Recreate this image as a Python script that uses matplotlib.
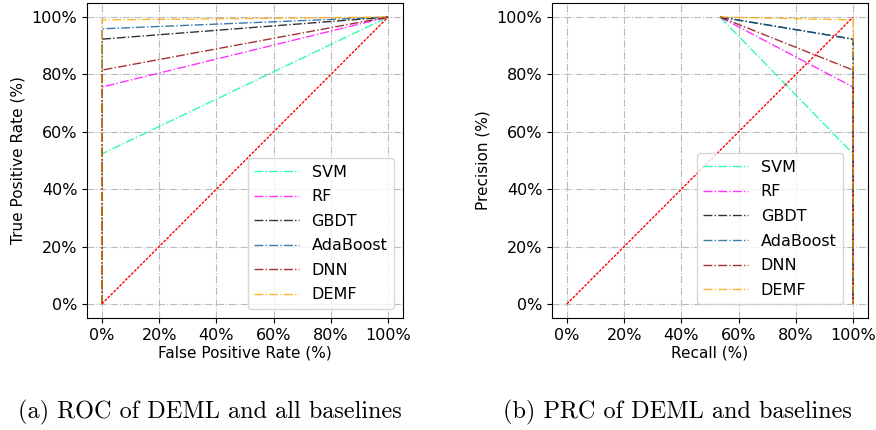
import matplotlib
matplotlib.use('Agg')
import matplotlib.pyplot as plt
from matplotlib.ticker import PercentFormatter

# Series names and styles
names = ['SVM', 'RF', 'GBDT', 'AdaBoost', 'DNN', 'DEMF']
colors = ['mediumspringgreen', 'magenta', 'black', '#0b5a91', 'darkred', 'orange']

# ROC: (fpr, tpr) points per model
roc_fpr = [0.0, 0.0, 1.0]
roc_tpr = {
    'SVM': [0.0, 0.523, 1.0],
    'RF': [0.0, 0.756, 1.0],
    'GBDT': [0.0, 0.923, 1.0],
    'AdaBoost': [0.0, 0.959, 1.0],
    'DNN': [0.0, 0.815, 1.0],
    'DEMF': [0.0, 0.99, 1.0],
}

# PRC: (recall, precision) points per model
prc_recall = [0.535, 1.0, 1.0]
prc_precision = {
    'SVM': [1.0, 0.523, 0.0],
    'RF': [1.0, 0.756, 0.0],
    'GBDT': [1.0, 0.923, 0.0],
    'AdaBoost': [1.0, 0.923, 0.0],
    'DNN': [1.0, 0.815, 0.0],
    'DEMF': [1.0, 0.99, 0.0],
}
diag = [0.0, 1.0]

plt.rcParams['font.family'] = ['DejaVu Sans']
plt.rcParams['font.size'] = 10

fig = plt.figure(figsize=(8.76, 4.30), dpi=100)
ax_roc = fig.add_axes([87/876, 112/430, 316/876, 315/430])
ax_prc = fig.add_axes([552/876, 112/430, 316/876, 315/430])

for name, c in zip(names, colors):
    ax_roc.plot(roc_fpr, roc_tpr[name], '-.', color=c, lw=1.0, alpha=0.8, label=name)
    ax_prc.plot(prc_recall, prc_precision[name], '-.', color=c, lw=1.0, alpha=0.8, label=name)
ax_roc.plot(diag, diag, '--', color='red', lw=1.0, dashes=(2, 1))
ax_prc.plot(diag, diag, '--', color='red', lw=1.0, dashes=(2, 1))

for ax in (ax_roc, ax_prc):
    ax.set_xlim(-0.052, 1.052)
    ax.set_ylim(-0.049, 1.049)
    ax.set_xticks([0, 0.2, 0.4, 0.6, 0.8, 1.0])
    ax.set_yticks([0, 0.2, 0.4, 0.6, 0.8, 1.0])
    ax.xaxis.set_major_formatter(PercentFormatter(1.0, decimals=0))
    ax.yaxis.set_major_formatter(PercentFormatter(1.0, decimals=0))
    ax.grid(True, linestyle='-.', color='#bbbbbb', lw=0.8)
    ax.tick_params(labelsize=11.5)

ax_roc.set_xlabel('False Positive Rate (%)', fontsize=11, labelpad=2)
ax_roc.set_ylabel('True Positive Rate (%)', fontsize=11)
ax_prc.set_xlabel('Recall (%)', fontsize=11, labelpad=2)
ax_prc.set_ylabel('Precision (%)', fontsize=11)

ax_roc.legend(loc='lower right', bbox_to_anchor=(0.971, 0.029), borderaxespad=0,
              fontsize=11.5, handlelength=2.8, labelspacing=0.6)
ax_prc.legend(loc='lower right', bbox_to_anchor=(0.921, 0.044), borderaxespad=0,
              fontsize=11.5, handlelength=2.8, labelspacing=0.6)

fig.text(210/876, 1 - 412/430, '(a) ROC of DEML and all baselines',
         family='cmr10', fontsize=17.5, ha='center', va='center')
fig.text(677/876, 1 - 412/430, '(b) PRC of DEML and baselines',
         family='cmr10', fontsize=17.5, ha='center', va='center')

fig.savefig('out.png', dpi=100)
